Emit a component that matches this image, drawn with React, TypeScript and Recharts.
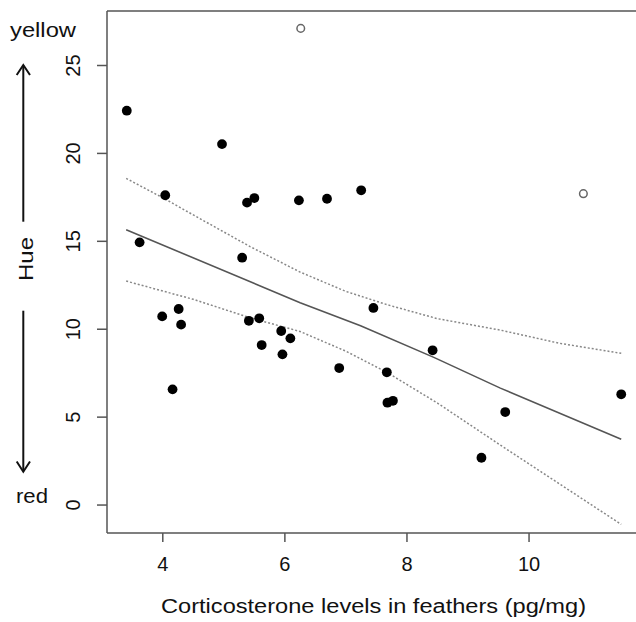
import React from 'react';
import { ScatterChart, Scatter, XAxis, YAxis, ReferenceLine, Customized } from 'recharts';

const filledX = [3.41, 4.97, 4.04, 5.38, 5.50, 3.62, 5.30, 6.23, 6.69, 7.25, 3.99, 4.26, 4.30, 4.16, 5.41, 5.58, 5.62, 5.94, 6.09, 5.96, 7.45, 8.42, 6.89, 7.67, 7.68, 7.77, 9.22, 9.61, 11.51];
const filledY = [22.43, 20.53, 17.62, 17.2, 17.46, 14.94, 14.07, 17.33, 17.42, 17.90, 10.73, 11.15, 10.26, 6.58, 10.48, 10.62, 9.10, 9.90, 9.48, 8.57, 11.21, 8.80, 7.79, 7.55, 5.82, 5.93, 2.69, 5.29, 6.30];

const openX = [6.26, 10.89];
const openY = [27.11, 17.71];

const fitX = [3.4, 6.25, 7.24, 8.44, 9.53, 11.51];
const fitY = [15.66, 11.51, 10.2, 8.4, 6.65, 3.74];

const upperX = [3.4, 4.04, 4.5, 5.43, 6.25, 7.0, 7.67, 8.5, 9.53, 10.5, 11.51];
const upperY = [18.58, 17.4, 16.5, 14.7, 13.25, 12.15, 11.4, 10.6, 9.95, 9.2, 8.63];

const lowerX = [3.4, 4.5, 5.43, 6.25, 7.0, 7.67, 8.5, 9.53, 10.5, 11.51];
const lowerY = [12.74, 11.7, 10.65, 9.87, 8.75, 7.55, 5.8, 3.41, 1.2, -1.1];

const xTicks = [4, 6, 8, 10];
const yTicks = [0, 5, 10, 15, 20, 25];

const xTitle = 'Corticosterone levels in feathers (pg/mg)';
const yTitle = 'Hue';
const topLabel = 'yellow';
const bottomLabel = 'red';

const zip = (xs: number[], ys: number[]) => xs.map((x, i) => ({ x, y: ys[i] }));

const filled = zip(filledX, filledY);
const open = zip(openX, openY);
const fit = zip(fitX, fitY);
const upper = zip(upperX, upperY);
const lower = zip(lowerX, lowerY);

const FONT = '"Liberation Sans", Arial, Helvetica, sans-serif';
const AXIS = '#555';

const XTick = (props: any) => {
  const { x, payload } = props;
  return (
    <text x={x} y={571} textAnchor="middle" fontFamily={FONT} fontSize={20} fill="#111">
      {payload.value}
    </text>
  );
};

const YTick = (props: any) => {
  const { y, payload } = props;
  return (
    <text x={0} y={0} transform={`translate(80,${y}) rotate(-90)`} textAnchor="middle" fontFamily={FONT} fontSize={20} fill="#111">
      {payload.value}
    </text>
  );
};

const Annotations = () => (
  <g fontFamily={FONT} fill="#111">
    <text x={373.5} y={613} textAnchor="middle" fontSize={20} textLength={425} lengthAdjust="spacingAndGlyphs">
      {xTitle}
    </text>
    <text x={10} y={36.5} fontSize={20} textLength={66} lengthAdjust="spacingAndGlyphs">
      {topLabel}
    </text>
    <text x={16} y={502.5} fontSize={20} textLength={32} lengthAdjust="spacingAndGlyphs">
      {bottomLabel}
    </text>
    <text x={0} y={0} transform="translate(33,259) rotate(-90)" textAnchor="middle" fontSize={20} textLength={44} lengthAdjust="spacingAndGlyphs">
      {yTitle}
    </text>
    <g stroke="#111" strokeWidth={2} fill="none">
      <line x1={23.3} y1={221.7} x2={23.3} y2={65.5} />
      <polyline points="16.7,75 23.3,65 30,75" />
      <line x1={23.3} y1={310.7} x2={23.3} y2={471.2} />
      <polyline points="16.7,461.5 23.3,471.7 30,461.5" />
    </g>
  </g>
);

const Empty = () => <g />;

export default function App() {
  return (
    <div style={{ position: 'absolute', left: 0, top: 0, width: 636, height: 622, overflow: 'hidden', background: '#fff' }}>
      <ScatterChart width={645} height={622} margin={{ top: 11, right: 4, bottom: 0, left: 0 }}>
        <XAxis
          type="number"
          dataKey="x"
          domain={[3.086, 11.834]}
          ticks={xTicks}
          allowDataOverflow
          height={89}
          tickSize={9}
          axisLine={{ stroke: AXIS, strokeWidth: 1.5 }}
          tickLine={{ stroke: AXIS, strokeWidth: 1.5 }}
          tick={<XTick />}
        />
        <YAxis
          type="number"
          dataKey="y"
          domain={[-1.59, 28.1]}
          ticks={yTicks}
          allowDataOverflow
          width={107}
          tickSize={10}
          axisLine={{ stroke: AXIS, strokeWidth: 1.5 }}
          tickLine={{ stroke: AXIS, strokeWidth: 1.5 }}
          tick={<YTick />}
        />
        <ReferenceLine y={28.1} stroke={AXIS} strokeWidth={1.5} />
        <Scatter data={upper} line={{ stroke: '#888', strokeWidth: 1.5, strokeDasharray: '2 2' }} lineType="joint" shape={<Empty />} isAnimationActive={false} />
        <Scatter data={lower} line={{ stroke: '#888', strokeWidth: 1.5, strokeDasharray: '2 2' }} lineType="joint" shape={<Empty />} isAnimationActive={false} />
        <Scatter data={fit} line={{ stroke: '#555', strokeWidth: 1.6 }} lineType="joint" shape={<Empty />} isAnimationActive={false} />
        <Scatter
          data={filled}
          isAnimationActive={false}
          shape={(p: any) => <circle cx={p.cx} cy={p.cy} r={4.9} fill="#000" />}
        />
        <Scatter
          data={open}
          isAnimationActive={false}
          shape={(p: any) => <circle cx={p.cx} cy={p.cy} r={3.8} fill="#fff" stroke="#666" strokeWidth={1.5} />}
        />
        <Customized component={Annotations} />
      </ScatterChart>
    </div>
  );
}
